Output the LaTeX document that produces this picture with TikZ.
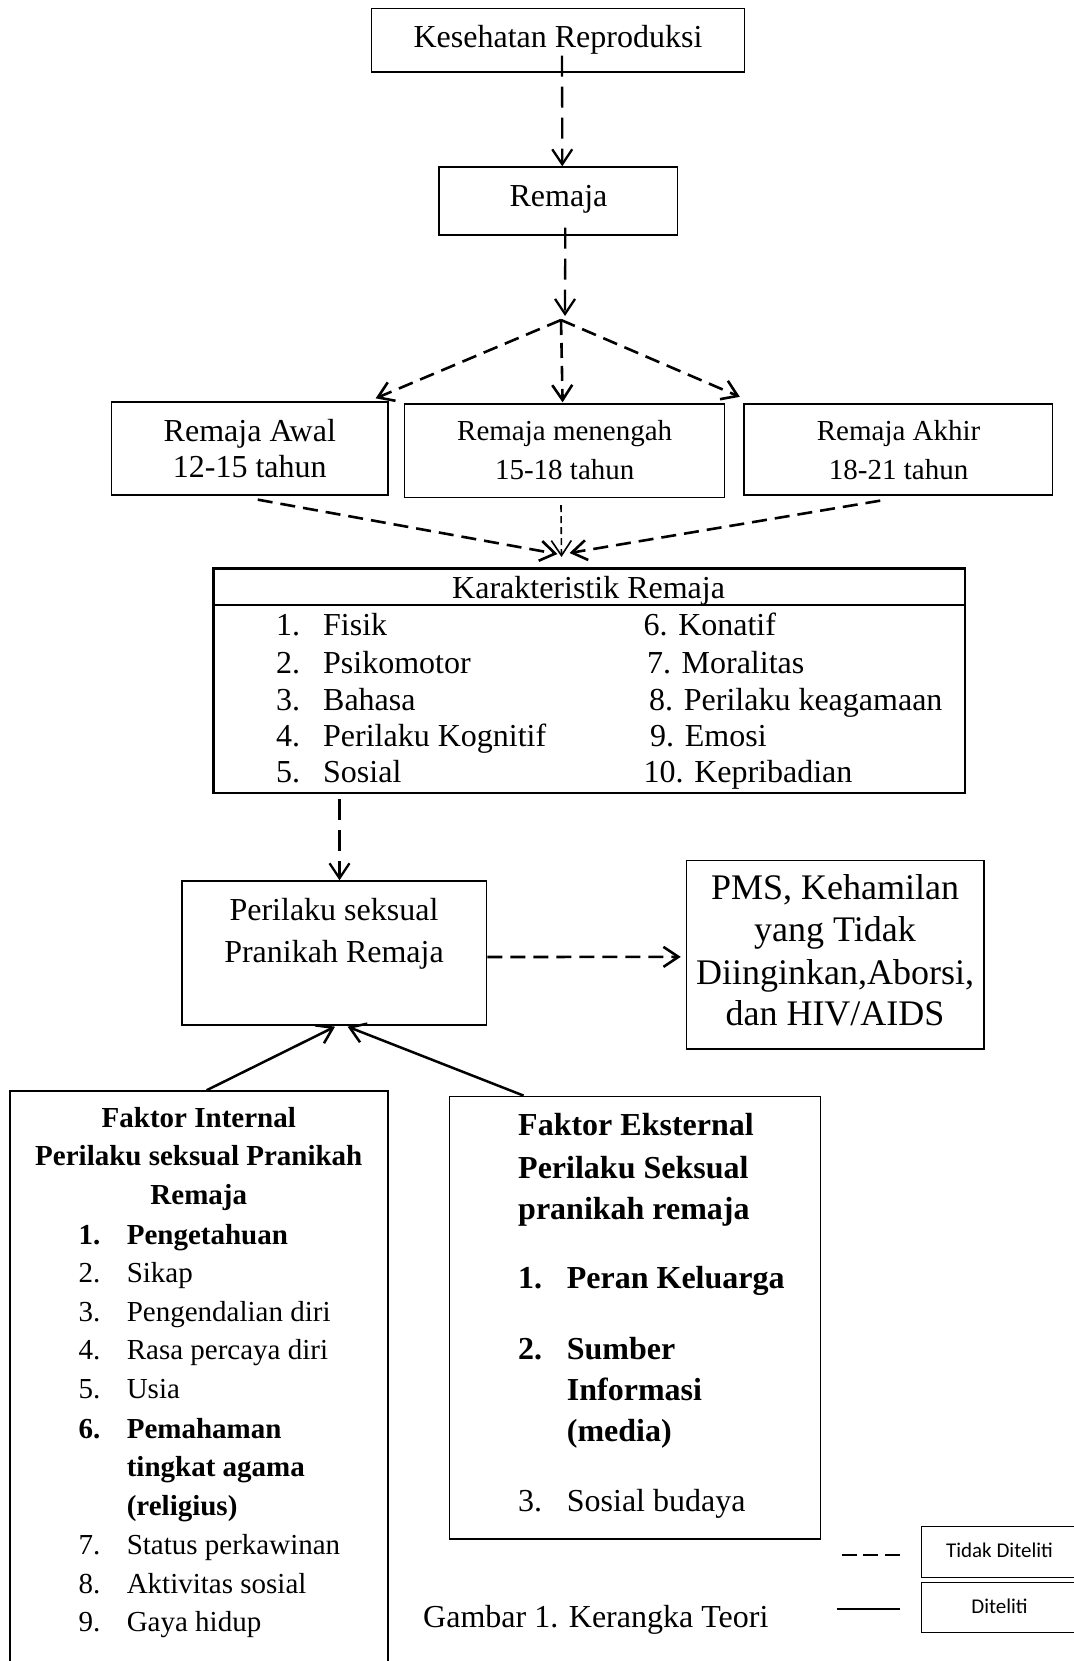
\documentclass[tikz,border=0pt]{standalone}
\usepackage{fontspec}
\setmainfont{Liberation Serif}
\newfontfamily\legendfont{Carlito}
\usetikzlibrary{arrows.meta}
\begin{document}
\begin{tikzpicture}[x=1pt,y=-1pt,
  box/.style={draw, line width=1.3pt, inner sep=0pt},
  tip/.style={-{Straight Barb[length=15pt,width=20pt]}},
  dline/.style={tip, line width=2.3pt, dash pattern=on 21pt off 10pt},
  dlinetwo/.style={tip, line width=2.6pt, dash pattern=on 15pt off 8pt},
  fineline/.style={tip, line width=1.6pt, dash pattern=on 7pt off 4pt},
  sline/.style={tip, line width=2.5pt},
  fa/.style={font=\fontsize{32}{38}\selectfont},
  fb/.style={font=\fontsize{29}{35}\selectfont},
  fc/.style={font=\fontsize{36}{42}\selectfont},
  fl/.style={font=\legendfont\fontsize{21}{25}\selectfont},
  ctxt/.style={inner sep=0pt, anchor=base},
  ltxt/.style={inner sep=0pt, anchor=base west}]
\useasboundingbox[fill=white] (0,0) rectangle (1073,1661);

% boxes
\node[box, minimum width=372.9pt, minimum height=63.5pt] (kes) at (558.05,40.35) {};
\node[box, minimum width=238.5pt, minimum height=68pt] (rem) at (558.25,201) {};
\node[box, minimum width=276.5pt, minimum height=93pt] (awal) at (249.75,448.5) {};
\node[box, minimum width=320.2pt, minimum height=93.5pt] (mid) at (564.6,450.75) {};
\node[box, minimum width=308.5pt, minimum height=91pt] (akhir) at (898.25,449.5) {};
\node[box, line width=2.5pt, minimum width=751.5pt, minimum height=224.3pt] (kar) at (589.25,680.75) {};
\draw[line width=2.5pt] ([yshift=-37.8pt]kar.north west) -- ([yshift=-37.8pt]kar.north east);
\node[box, minimum width=304.6pt, minimum height=144pt] (pkl) at (334.3,953) {};
\node[box, minimum width=297.6pt, minimum height=188.3pt] (pms) at (835.2,954.85) {};
\node[box, line width=1.6pt, minimum width=378pt, minimum height=609pt] (int) at (199,1395.5) {};
\node[box, line width=1.6pt, minimum width=370.9pt, minimum height=442.6pt] (ext) at (635.05,1317.7) {};
\node[box, line width=1.5pt, minimum width=163.3pt, minimum height=50.6pt] (leg1) at (1003.35,1552) {};
\node[box, line width=1.5pt, minimum width=163.3pt, minimum height=50pt] (leg2) at (1003.35,1607.3) {};

\coordinate (split) at (561,320);
\coordinate (kin) at (561.5,557);

% texts
\node[ctxt, fa] (tkes) at (558,48) {Kesehatan Reproduksi};
\node[ctxt, fa] (trem) at (558.5,206.4) {Remaja};
\node[ctxt, fa] (tawal1) at (249.8,441.8) {Remaja Awal};
\node[ctxt, fa] (tawal2) at (249.8,477.5) {12-15 tahun};
\node[ctxt, fb] (tmid1) at (564.7,440) {Remaja menengah};
\node[ctxt, fb] (tmid2) at (564.7,479.6) {15-18 tahun};
\node[ctxt, fb] (takh1) at (898.6,440) {Remaja Akhir};
\node[ctxt, fb] (takh2) at (898.6,479.6) {18-21 tahun};

\node[ctxt, fa] (tkar) at (588.6,598.2) {Karakteristik Remaja};
\node[ltxt, fa] (k1) at (275.8,635.7) {\makebox[47.2pt][l]{1.}Fisik};
\node[ltxt, fa] (k2) at (275.8,673.2) {\makebox[47.2pt][l]{2.}Psikomotor};
\node[ltxt, fa] (k3) at (275.8,710) {\makebox[47.2pt][l]{3.}Bahasa};
\node[ltxt, fa] (k4) at (275.8,746.4) {\makebox[47.2pt][l]{4.}Perilaku Kognitif};
\node[ltxt, fa] (k5) at (275.8,782.9) {\makebox[47.2pt][l]{5.}Sosial};
\node[ltxt, fa] (k6) at (643.4,635.7) {6. Konatif};
\node[ltxt, fa] (k7) at (646.8,673.2) {7. Moralitas};
\node[ltxt, fa] (k8) at (649,710) {8. Perilaku keagamaan};
\node[ltxt, fa] (k9) at (650,746.4) {9. Emosi};
\node[ltxt, fa] (k10) at (643.4,782.9) {10. Kepribadian};

\node[ctxt, fa] (tpkl1) at (334,920.4) {Perilaku seksual};
\node[ctxt, fa] (tpkl2) at (334,962.5) {Pranikah Remaja};

\node[ctxt, fc] (tpms1) at (835,899.3) {PMS, Kehamilan};
\node[ctxt, fc] (tpms2) at (835,941) {yang Tidak};
\node[ctxt, fc] (tpms3) at (835,984) {Diinginkan,Aborsi,};
\node[ctxt, fc] (tpms4) at (835,1025) {dan HIV/AIDS};

% internal
\node[ctxt, fb] (ti1) at (198.8,1127.9) {\bfseries Faktor Internal};
\node[ctxt, fb] (ti2) at (198.8,1165.5) {\bfseries Perilaku seksual Pranikah};
\node[ctxt, fb] (ti3) at (198.8,1204.8) {\bfseries Remaja};
\node[ltxt, fb] (i1) at (78.5,1244.2) {\bfseries\makebox[48.1pt][l]{1.}Pengetahuan};
\node[ltxt, fb] (i2) at (78.5,1282.5) {\makebox[48.1pt][l]{2.}Sikap};
\node[ltxt, fb] (i3) at (78.5,1321) {\makebox[48.1pt][l]{3.}Pengendalian diri};
\node[ltxt, fb] (i4) at (78.5,1359.4) {\makebox[48.1pt][l]{4.}Rasa percaya diri};
\node[ltxt, fb] (i5) at (78.5,1398.7) {\makebox[48.1pt][l]{5.}Usia};
\node[ltxt, fb] (i6) at (78.5,1438) {\bfseries\makebox[48.1pt][l]{6.}Pemahaman};
\node[ltxt, fb] (i6b) at (126.6,1476.4) {\bfseries tingkat agama};
\node[ltxt, fb] (i6c) at (126.6,1515) {\bfseries (religius)};
\node[ltxt, fb] (i7) at (78.5,1554.4) {\makebox[48.1pt][l]{7.}Status perkawinan};
\node[ltxt, fb] (i8) at (78.5,1593) {\makebox[48.1pt][l]{8.}Aktivitas sosial};
\node[ltxt, fb] (i9) at (78.5,1631.3) {\makebox[48.1pt][l]{9.}Gaya hidup};

% external
\node[ltxt, fa] (te1) at (518,1135.8) {\bfseries Faktor Eksternal};
\node[ltxt, fa] (te2) at (518,1178) {\bfseries Perilaku Seksual};
\node[ltxt, fa] (te3) at (518,1219.9) {\bfseries pranikah remaja};
\node[ltxt, fa] (e1) at (518,1288.9) {\bfseries\makebox[48.7pt][l]{1.}Peran Keluarga};
\node[ltxt, fa] (e2) at (518,1359.4) {\bfseries\makebox[48.7pt][l]{2.}Sumber};
\node[ltxt, fa] (e2b) at (566.7,1400.5) {\bfseries Informasi};
\node[ltxt, fa] (e2c) at (566.7,1441.7) {\bfseries (media)};
\node[ltxt, fa] (e3) at (518,1511.4) {\makebox[48.7pt][l]{3.}Sosial budaya};

% caption and legend
\node[ltxt, fa] (cap) at (423,1627.7) {Gambar 1. Kerangka Teori};
\node[ctxt, fl] (tleg1) at (999.5,1557.3) {Tidak Diteliti};
\node[ctxt, fl] (tleg2) at (999.5,1613.3) {Diteliti};
\coordinate (ld1) at (841.7,1555);
\coordinate (ld2) at (900.1,1555);
\coordinate (ls1) at (836.7,1609.3);
\coordinate (ls2) at (900,1609.3);
\draw[line width=1.8pt, dash pattern=on 15pt off 6.7pt] (ld1) -- (ld2);
\draw[line width=1.8pt] (ls1) -- (ls2);

% connectors
\draw[dline] ([xshift=4pt,yshift=17pt]kes.south) -- ([xshift=4pt]rem.north);
\draw[dline] ([xshift=7pt,yshift=8pt]rem.south) -- ([xshift=4pt,yshift=4pt]split);
\draw[dlinetwo] (split) -- ([xshift=-13pt,yshift=3pt]awal.north east);
\draw[dlinetwo] (split) -- ([xshift=-2pt,yshift=1pt]mid.north);
\draw[dlinetwo] (split) -- ([xshift=-3.5pt,yshift=6.5pt]akhir.north west);
\draw[dlinetwo] ([xshift=8pt,yshift=-4pt]awal.south) -- ([xshift=-4pt,yshift=3pt]kin);
\draw[fineline] ([xshift=-3.6pt,yshift=-7pt]mid.south) -- (kin);
\draw[dlinetwo] ([xshift=-18pt,yshift=-5pt]akhir.south) -- ([xshift=8pt,yshift=4pt]kin);
\draw[dline] ([xshift=-249.75pt,yshift=-5pt]kar.south) -- ([xshift=5.2pt]pkl.north);
\draw[dlinetwo] ([yshift=-4pt]pkl.east) -- ([xshift=-5pt,yshift=-2pt]pms.west);
\draw[sline] ([xshift=7.7pt]int.north) -- ([xshift=0.7pt,yshift=-1pt]pkl.south);
\draw[sline] ([xshift=-111.5pt]ext.north) -- ([xshift=13.3pt,yshift=-1pt]pkl.south);
\end{tikzpicture}
\end{document}
